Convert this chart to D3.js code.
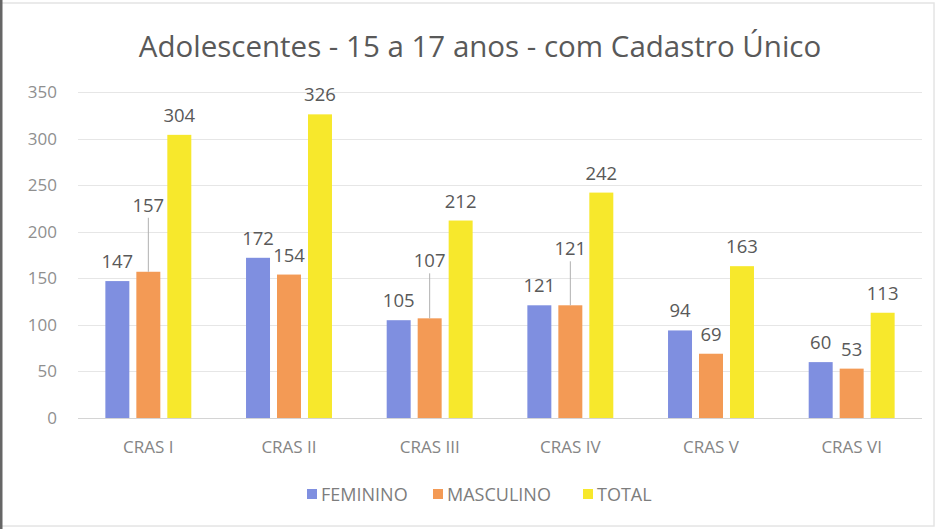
<!DOCTYPE html>
<html>
<head>
<meta charset="utf-8">
<script src="https://cdn.jsdelivr.net/npm/d3@7"></script>
<style>
  body { margin: 0; background: #fff; }
  svg { display: block; font-family: "Open Sans", "Noto Sans", sans-serif; }
</style>
</head>
<body>
<div id="chart"></div>
<script>
// values
const categories = ["CRAS I", "CRAS II", "CRAS III", "CRAS IV", "CRAS V", "CRAS VI"];
const series = ["FEMININO", "MASCULINO", "TOTAL"];
const feminino = [147, 172, 105, 121, 94, 60];
const masculino = [157, 154, 107, 121, 69, 53];
const total = [304, 326, 212, 242, 163, 113];
const yTicks = [0, 50, 100, 150, 200, 250, 300, 350];

// labels pushed up with a leader line (series, category index, lift in px)
const leaderLabels = [
    { s: 1, c: 0, lift: 47 },
    { s: 1, c: 2, lift: 38 },
    { s: 1, c: 3, lift: 37 }
];

const colors = ["#7f8fe0", "#f39a55", "#f7e82c"];
const values = [feminino, masculino, total];

const width = 935, height = 529;
const margin = { top: 92, right: 13, bottom: 111, left: 78 };

const svg = d3.select("#chart")
    .append("svg")
    .attr("width", width)
    .attr("height", height);

// scanned border
svg.append("rect")
    .attr("x", 1).attr("y", 3)
    .attr("width", width - 2).attr("height", height - 6)
    .attr("fill", "none")
    .attr("stroke", "#e4e4e4")
    .attr("stroke-width", 1.5);
svg.append("line")
    .attr("x1", 1).attr("x2", 1)
    .attr("y1", 0).attr("y2", height)
    .attr("stroke", "#666")
    .attr("stroke-width", 3);

var x0 = d3.scaleBand()
    .domain(categories)
    .range([margin.left, width - margin.right])
    .paddingInner(0.389)
    .paddingOuter(0.1945);

var x1 = d3.scaleBand()
    .domain(series)
    .range([0, x0.bandwidth()])
    .paddingInner(0.226);

var y = d3.scaleLinear()
    .domain([0, 350])
    .range([height - margin.bottom, margin.top]);

// gridlines
svg.append("g")
    .selectAll("line")
    .data(yTicks)
    .enter()
    .append("line")
    .attr("x1", margin.left)
    .attr("x2", width - margin.right)
    .attr("y1", d => Math.round(y(d)) + 0.5)
    .attr("y2", d => Math.round(y(d)) + 0.5)
    .attr("stroke", d => d === 0 ? "#d4d4d4" : "#e6e6e6")
    .attr("stroke-width", 1);

// y axis labels
var yAxis = d3.axisLeft(y)
    .tickValues(yTicks)
    .tickSize(0)
    .tickPadding(0);

svg.append("g")
    .attr("transform", "translate(" + (margin.left - 21) + ",0)")
    .call(yAxis)
    .call(g => g.select(".domain").remove())
    .selectAll("text")
    .attr("font-family", "'Open Sans', sans-serif")
    .attr("font-size", 17)
    .attr("fill", "#8f8f8f");

// x axis labels
var xAxis = d3.axisBottom(x0)
    .tickSize(0)
    .tickPadding(0);

svg.append("g")
    .attr("transform", "translate(0," + (y(0) + 35) + ")")
    .call(xAxis)
    .call(g => g.select(".domain").remove())
    .selectAll("text")
    .attr("dy", 0)
    .attr("font-family", "'Open Sans', sans-serif")
    .attr("font-size", 17)
    .attr("fill", "#858585");

// bars
var rows = [];
categories.forEach(function(c, ci) {
    series.forEach(function(s, si) {
        rows.push({ cat: c, ci: ci, ser: s, si: si, value: values[si][ci] });
    });
});

svg.append("g")
    .selectAll("rect")
    .data(rows)
    .enter()
    .append("rect")
    .attr("x", d => x0(d.cat) + x1(d.ser))
    .attr("y", d => y(d.value))
    .attr("width", x1.bandwidth())
    .attr("height", d => y(0) - y(d.value))
    .attr("fill", d => colors[d.si]);

// data labels
function liftOf(d) {
    var l = leaderLabels.find(o => o.s === d.si && o.c === d.ci);
    return l ? l.lift : 0;
}

var labels = svg.append("g");

labels.selectAll("line")
    .data(rows.filter(d => liftOf(d) > 0))
    .enter()
    .append("line")
    .attr("x1", d => x0(d.cat) + x1(d.ser) + x1.bandwidth() / 2)
    .attr("x2", d => x0(d.cat) + x1(d.ser) + x1.bandwidth() / 2)
    .attr("y1", d => y(d.value) - liftOf(d) - 7)
    .attr("y2", d => y(d.value))
    .attr("stroke", "#b0b0b0")
    .attr("stroke-width", 1);

labels.selectAll("text")
    .data(rows)
    .enter()
    .append("text")
    .attr("x", d => x0(d.cat) + x1(d.ser) + x1.bandwidth() / 2)
    .attr("y", d => y(d.value) - 13 - liftOf(d))
    .attr("text-anchor", "middle")
    .attr("font-size", 18.5)
    .attr("fill", "#595959")
    .text(d => d.value);

// title
svg.append("text")
    .attr("x", 480)
    .attr("y", 57)
    .attr("text-anchor", "middle")
    .attr("font-size", 29.5)
    .attr("fill", "#595959")
    .text("Adolescentes - 15 a 17 anos - com Cadastro Único");

// legend
var legendX = [307, 433, 583];
var legend = svg.append("g")
    .selectAll("g")
    .data(series)
    .enter()
    .append("g")
    .attr("transform", (d, i) => "translate(" + legendX[i] + ",489)");

legend.append("rect")
    .attr("width", 10)
    .attr("height", 10)
    .attr("fill", (d, i) => colors[i]);

legend.append("text")
    .attr("x", 14)
    .attr("y", 11.5)
    .attr("font-size", 18)
    .attr("fill", "#7d7d7d")
    .text(d => d);
</script>
</body>
</html>
